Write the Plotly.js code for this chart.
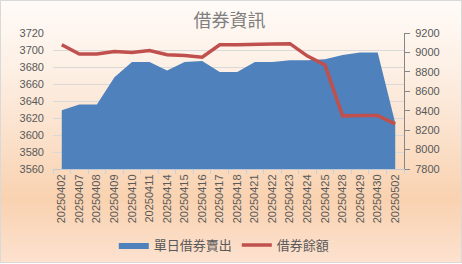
<!DOCTYPE html>
<html>
<head>
<meta charset="utf-8">
<script src="https://cdn.plot.ly/plotly-3.0.1.min.js"></script>
<style>
  html, body { margin: 0; padding: 0; }
  body { width: 462px; height: 264px; overflow: hidden; }
  #wrap {
    position: absolute; left: 0; top: 0; width: 460px; height: 261px;
    border: 1px solid #d9d9d9;
    background: linear-gradient(to bottom, #fffbf8 0%, #fdf0e5 25%, #fbe2cd 50%, #f9d2b0 76%, #fbdcc5 92%, #fde2cf 100%);
  }
  #chart { position: absolute; left: 0; top: 0; width: 462px; height: 264px; }
</style>
</head>
<body>
<div id="wrap"></div>
<div id="chart"></div>
<script>
const dates = ['20250402','20250407','20250408','20250409','20250410','20250411','20250414','20250415','20250416','20250417','20250418','20250421','20250422','20250423','20250424','20250425','20250428','20250429','20250430','20250502'];
const dailyShortSell = [3629,3636,3636,3668,3686,3686,3676,3686,3687,3674,3674,3686,3686,3688,3688,3689,3694,3697,3697,3614];
const lendingBalance = [9079,8983,8983,9010,9000,9020,8976,8969,8950,9079,9079,9088,9088,9090,8962,8870,8347,8350,8350,8264];
const leftTicks = [3560,3580,3600,3620,3640,3660,3680,3700,3720];
const rightTicks = [7800,8000,8200,8400,8600,8800,9000,9200];

const fontFam = '"Liberation Sans", Arial, "Noto Sans CJK TC", sans-serif';
const cjkFam = '"Noto Sans CJK TC", "Liberation Sans", sans-serif';

const traces = [
  {
    x: dates, y: dailyShortSell, name: '單日借券賣出', type: 'scatter', mode: 'lines',
    fill: 'tozeroy', fillcolor: '#4f81bd', line: {width: 0, color: '#4f81bd'},
    hoverinfo: 'skip'
  },
  {
    x: dates, y: lendingBalance, name: '借券餘額', type: 'scatter', mode: 'lines',
    yaxis: 'y2', line: {width: 3.5, color: '#c0504d'}, hoverinfo: 'skip'
  }
];

const layout = {
  width: 462, height: 264,
  margin: {l: 53, r: 58, t: 33, b: 95, pad: 0, autoexpand: false},
  paper_bgcolor: 'rgba(0,0,0,0)', plot_bgcolor: 'rgba(0,0,0,0)',
  showlegend: true,
  title: {text: '借券資訊', x: 0.497, xanchor: 'center', y: 0.92, yanchor: 'middle',
          font: {family: cjkFam, size: 18, color: '#7f7f7f'}},
  xaxis: {
    type: 'category', range: [-0.5, 19.5], tickangle: -90, automargin: false,
    tickvals: dates, ticktext: dates,
    tickson: 'boundaries', ticks: 'outside', ticklen: 4, tickcolor: '#c8d0dc',
    showline: true, linecolor: '#c0c8d4', linewidth: 1, showgrid: false, zeroline: false,
    tickfont: {family: fontFam, size: 11, color: '#595959'}
  },
  yaxis: {
    range: [3560, 3720], tickvals: leftTicks, ticktext: leftTicks.map(String), automargin: false,
    showgrid: true, gridcolor: '#d9d9d9', gridwidth: 1, zeroline: false,
    showline: false, ticks: '', ticklabelstandoff: 8,
    tickfont: {family: fontFam, size: 11, color: '#595959'}
  },
  yaxis2: {
    range: [7800, 9200], tickvals: rightTicks, ticktext: rightTicks.map(String), automargin: false,
    overlaying: 'y', side: 'right', showgrid: false, zeroline: false,
    showline: true, linecolor: '#868686', linewidth: 1,
    ticks: 'outside', ticklen: 5, tickcolor: '#868686', ticklabelstandoff: 3,
    tickfont: {family: fontFam, size: 11, color: '#595959'}
  },
  legend: {
    orientation: 'h', x: 0.488, xanchor: 'center', yref: 'container', y: 0.072, yanchor: 'middle',
    font: {family: cjkFam, size: 13, color: '#595959'},
    bgcolor: 'rgba(0,0,0,0)', itemwidth: 30, traceorder: 'normal'
  }
};

Plotly.newPlot('chart', traces, layout, {staticPlot: true, displayModeBar: false});
</script>
</body>
</html>
